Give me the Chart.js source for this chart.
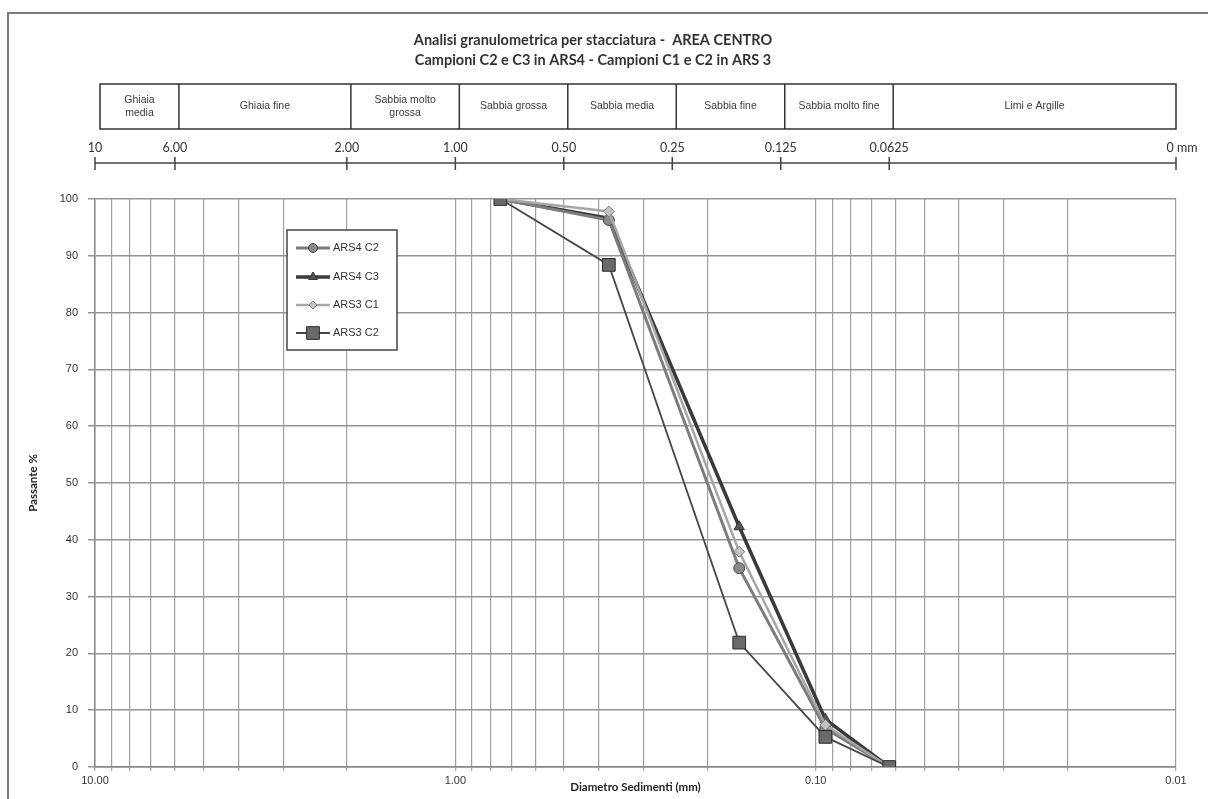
<!DOCTYPE html>
<html>
<head>
<meta charset="utf-8">
<script src="https://cdn.jsdelivr.net/npm/chart.js@4.4.1/dist/chart.umd.min.js"></script>
<style>
  html, body { margin: 0; padding: 0; background: #fff; }
  #wrap { width: 1208px; height: 799px; position: relative; }
</style>
</head>
<body>
<div id="wrap"><canvas id="chart"></canvas></div>
<script>
// diameters (mm) of the sieves
const diameters = [0.75, 0.375, 0.163, 0.094, 0.0625];

// passing percentage per sample
const ars4c2 = [100, 96.3, 35.0, 6.8, 0];
const ars4c3 = [100, 96.6, 42.3, 8.4, 0];
const ars3c1 = [100, 97.8, 37.9, 7.4, 0];
const ars3c2 = [100, 88.4, 21.9, 5.3, 0];

// grain size classes on top of the chart
const classEdges = [10, 6, 2, 1, 0.5, 0.25, 0.125, 0.0625, 0.01];
const classNames = ['Ghiaia\nmedia', 'Ghiaia fine', 'Sabbia molto\ngrossa', 'Sabbia grossa',
  'Sabbia media', 'Sabbia fine', 'Sabbia molto fine', 'Limi e Argille'];
const topTickLabels = ['10', '6.00', '2.00', '1.00', '0.50', '0.25', '0.125', '0.0625', '0 mm'];

// log grid: 1..9 per decade
const decades = [0.01, 0.1, 1];
const multipliers = [1, 2, 3, 4, 5, 6, 7, 8, 9];
const majorTicks = [10, 1, 0.1, 0.01];
const gridValues = [];
decades.forEach(d => multipliers.forEach(m => gridValues.push(+(d * m).toPrecision(3))));
gridValues.push(10);

const yTicks = [0, 10, 20, 30, 40, 50, 60, 70, 80, 90, 100];

function pts(values) {
  return diameters.map((d, i) => ({ x: d, y: values[i] }));
}

// frame, class table, top scale and legend
const overlay = {
  id: 'overlay',
  beforeDraw(chart) {
    const ctx = chart.ctx;
    ctx.save();
    ctx.strokeStyle = '#7a7a7a';
    ctx.lineWidth = 2;
    ctx.beginPath();
    ctx.moveTo(8, 800);
    ctx.lineTo(8, 13);
    ctx.lineTo(1210, 13);
    ctx.stroke();
    ctx.restore();
  },
  afterDraw(chart) {
    const ctx = chart.ctx;
    const xs = chart.scales.x;
    ctx.save();

    // class table
    const top = 84, bottom = 129;
    ctx.strokeStyle = '#333';
    ctx.lineWidth = 1.5;
    const x0 = xs.getPixelForValue(classEdges[0]) + 5;
    const x1 = xs.getPixelForValue(classEdges[classEdges.length - 1]);
    ctx.strokeRect(x0, top, x1 - x0, bottom - top);
    ctx.font = '10.5px "Liberation Sans Narrow", "Liberation Sans", sans-serif';
    ctx.fillStyle = '#3a3a3a';
    ctx.textAlign = 'center';
    ctx.textBaseline = 'middle';
    for (let i = 0; i < classNames.length; i++) {
      const a = i === 0 ? x0 : xs.getPixelForValue(classEdges[i]) + 4;
      const b = i === classNames.length - 1 ? x1 : xs.getPixelForValue(classEdges[i + 1]) + 4;
      if (i > 0) {
        ctx.beginPath();
        ctx.moveTo(a, top);
        ctx.lineTo(a, bottom);
        ctx.stroke();
      }
      const lines = classNames[i].split('\n');
      const mid = (top + bottom) / 2;
      lines.forEach((t, k) => {
        ctx.fillText(t, (a + b) / 2, mid + (k - (lines.length - 1) / 2) * 13);
      });
    }

    // top scale
    const ay = 163;
    ctx.strokeStyle = '#444';
    ctx.lineWidth = 1.5;
    ctx.beginPath();
    ctx.moveTo(xs.getPixelForValue(classEdges[0]), ay);
    ctx.lineTo(x1, ay);
    ctx.stroke();
    ctx.font = '12.5px Lato, "Open Sans", sans-serif';
    ctx.fillStyle = '#333';
    ctx.textBaseline = 'alphabetic';
    classEdges.forEach((v, i) => {
      const px = xs.getPixelForValue(v);
      ctx.beginPath();
      ctx.moveTo(px, ay - 6);
      ctx.lineTo(px, ay + 7);
      ctx.stroke();
      const lx = i === classEdges.length - 1 ? px + 6 : px;
      ctx.fillText(topTickLabels[i], lx, 152);
    });

    // legend
    const lx = 287, ly = 230, lw = 110, lh = 120;
    ctx.fillStyle = '#fff';
    ctx.fillRect(lx, ly, lw, lh);
    ctx.strokeStyle = '#444';
    ctx.lineWidth = 1.5;
    ctx.strokeRect(lx, ly, lw, lh);
    const rowY = [248, 277, 305, 333];
    ctx.font = '11px "Liberation Sans", Arial, sans-serif';
    ctx.textAlign = 'left';
    ctx.textBaseline = 'middle';
    chart.data.datasets.forEach((ds, i) => {
      const y = rowY[i];
      ctx.strokeStyle = ds.borderColor;
      ctx.lineWidth = ds.borderWidth;
      ctx.beginPath();
      ctx.moveTo(296, y);
      ctx.lineTo(330, y);
      ctx.stroke();
      ctx.fillStyle = ds.pointBackgroundColor;
      ctx.strokeStyle = ds.pointBorderColor;
      ctx.lineWidth = 1;
      Chart.helpers.drawPoint(ctx, {
        pointStyle: ds.pointStyle,
        radius: ds.legendRadius,
        rotation: 0,
        borderWidth: 1
      }, 313, y);
      ctx.fillStyle = '#333';
      ctx.fillText(ds.label, 333, y);
    });
    ctx.restore();
  }
};

const ctx = document.getElementById('chart').getContext('2d');
new Chart(ctx, {
  type: 'line',
  data: {
    datasets: [
      {
        label: 'ARS4 C2', data: pts(ars4c2),
        borderColor: '#7c7c7c', borderWidth: 3,
        pointStyle: 'circle', pointRadius: 5.5, legendRadius: 4.5,
        pointBackgroundColor: '#8a8a8a', pointBorderColor: '#4a4a4a', pointBorderWidth: 1,
        order: 3
      },
      {
        label: 'ARS4 C3', data: pts(ars4c3),
        borderColor: '#3a3a3a', borderWidth: 3.5,
        pointStyle: 'triangle', pointRadius: 6, legendRadius: 5,
        pointBackgroundColor: '#555', pointBorderColor: '#333', pointBorderWidth: 1,
        order: 4
      },
      {
        label: 'ARS3 C1', data: pts(ars3c1),
        borderColor: '#a6a6a6', borderWidth: 2.5,
        pointStyle: 'rectRot', pointRadius: 5.5, legendRadius: 4,
        pointBackgroundColor: '#c2c2c2', pointBorderColor: '#7a7a7a', pointBorderWidth: 1,
        order: 2
      },
      {
        label: 'ARS3 C2', data: pts(ars3c2),
        borderColor: '#474747', borderWidth: 1.8,
        pointStyle: 'rect', pointRadius: 9, legendRadius: 9,
        pointBackgroundColor: '#6a6a6a', pointBorderColor: '#2e2e2e', pointBorderWidth: 1,
        order: 1
      }
    ]
  },
  options: {
    responsive: true,
    maintainAspectRatio: false,
    animation: false,
    layout: { padding: { left: 10, right: 32, top: 0, bottom: 0 } },
    plugins: {
      legend: { display: false },
      tooltip: { enabled: false },
      title: {
        display: true,
        text: ['Analisi granulometrica per stacciatura -  AREA CENTRO',
               'Campioni C2 e C3 in ARS4 - Campioni C1 e C2 in ARS 3'],
        color: '#333',
        font: { family: 'Lato, "Open Sans", sans-serif', size: 14.5, weight: 'bold', lineHeight: 1.4 },
        padding: { top: 30, bottom: 128.4 }
      }
    },
    scales: {
      x: {
        type: 'logarithmic',
        reverse: true,
        min: 0.01,
        max: 10,
        afterBuildTicks(scale) {
          scale.ticks = gridValues.map(v => ({ value: v }));
        },
        afterFit(scale) { scale.height = 32; },
        grid: { color: '#a0a0a0', lineWidth: 1.2, tickLength: 4 },
        border: { color: '#888', width: 1.5 },
        ticks: {
          autoSkip: false,
          maxRotation: 0,
          padding: 3,
          color: '#333',
          font: { family: '"Liberation Sans", Arial, sans-serif', size: 11 },
          callback(value) {
            return majorTicks.includes(value) ? value.toFixed(2) : '';
          }
        },
        title: {
          display: true,
          text: 'Diametro Sedimenti (mm)',
          color: '#222',
          font: { family: 'Lato, "Open Sans", sans-serif', size: 11.5, weight: 'bold' },
          padding: { top: 0, bottom: 5 }
        }
      },
      y: {
        min: 0,
        max: 100,
        afterBuildTicks(scale) {
          scale.ticks = yTicks.map(v => ({ value: v }));
        },
        afterFit(scale) { scale.width = 85; },
        grid: { color: '#969696', lineWidth: 1.5, tickLength: 7 },
        border: { color: '#888', width: 1.5 },
        ticks: {
          padding: 10,
          color: '#333',
          font: { family: '"Liberation Sans", Arial, sans-serif', size: 11 }
        },
        title: {
          display: true,
          text: 'Passante %',
          color: '#222',
          font: { family: 'Lato, "Open Sans", sans-serif', size: 11.5, weight: 'bold' },
          padding: { top: 16, bottom: 0 }
        }
      }
    }
  },
  plugins: [overlay]
});
</script>
</body>
</html>
